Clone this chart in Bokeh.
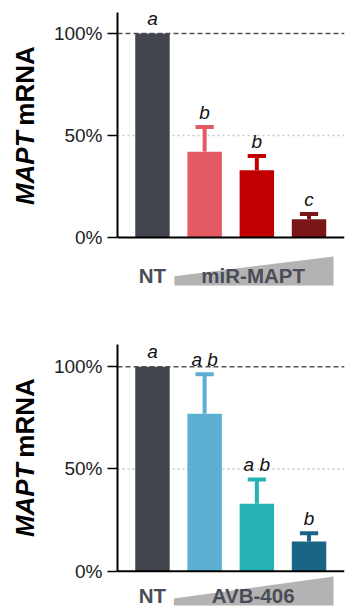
import math
from bokeh.plotting import figure
from bokeh.models import Range1d, Span, FixedTicker, NumeralTickFormatter, ColumnDataSource
from bokeh.layouts import column, row
from bokeh.embed import file_html
from bokeh.resources import INLINE
from bokeh.core.properties import value

# ---------------- data ----------------
groups = ["NT", "dose 1", "dose 2", "dose 3"]

mir_mean = [1.00, 0.42, 0.33, 0.09]
mir_err = [0.0, 0.122, 0.069, 0.025]
mir_letters = ["a", "b", "b", "c"]
mir_colors = ["#43454e", "#e35a62", "#c00000", "#7a1519"]

avb_mean = [1.00, 0.77, 0.33, 0.145]
avb_err = [0.0, 0.193, 0.118, 0.041]
avb_letters = ["a", "a b", "a b", "b"]
avb_colors = ["#43454e", "#5daed3", "#27b2b5", "#1a6585"]

y_ticks = [0, 0.5, 1.0]
ref_full = 1.0
ref_half = 0.5
control_label = "NT"
treatments = ["miR-MAPT", "AVB-406"]
ylabel_parts = ["MAPT", "mRNA"]

# ---------------- style ----------------
FONT = "Liberation Sans"
TXT_GREY = "#4a4d57"
WEDGE = "#b3b3b3"
LAB_W = 40
MAIN_W = 306


def make_panel(mean, err, letters, colors, treatment, height, top_border,
               y_start, y_end, axis_top, wedge, text_y, ylab_mid):
    x = list(range(len(mean)))
    yr = Range1d(y_start, y_end)
    p = figure(width=MAIN_W, height=height,
               x_range=Range1d(-0.67, 3.68), y_range=yr,
               x_axis_location=None, toolbar_location=None, output_backend="svg",
               min_border_left=117 - LAB_W, min_border_right=2,
               min_border_top=top_border, min_border_bottom=0,
               outline_line_color=None, title=None)
    p.grid.visible = False
    p.background_fill_color = "white"
    p.border_fill_color = "white"

    # reference lines
    p.add_layout(Span(location=ref_full, dimension="width", line_color="#555555",
                      line_width=1.5, line_dash="5 3", level="underlay"))
    p.add_layout(Span(location=ref_half, dimension="width", line_color="#c8c8c8",
                      line_width=1.5, line_dash="2 3", level="underlay"))

    src = ColumnDataSource(dict(x=x, top=mean, color=colors))
    p.vbar(x="x", top="top", bottom=0, width=0.66, fill_color="color",
           line_color=None, source=src)

    # error bars (upper only)
    ex = [xi for xi, e in zip(x, err) if e > 0]
    elo = [m for m, e in zip(mean, err) if e > 0]
    ehi = [m + e for m, e in zip(mean, err) if e > 0]
    ec = [c for c, e in zip(colors, err) if e > 0]
    esrc = ColumnDataSource(dict(x=ex, lo=elo, hi=ehi, c=ec,
                                 xl=[v - 0.175 for v in ex],
                                 xr=[v + 0.175 for v in ex]))
    p.segment(x0="x", y0="lo", x1="x", y1="hi", line_color="c", line_width=4,
              source=esrc)
    p.segment(x0="xl", y0="hi", x1="xr", y1="hi", line_color="c", line_width=4,
              source=esrc)

    # significance letters
    pad = 0.072
    ly = [m + e + pad for m, e in zip(mean, err)]
    p.text(x=x, y=ly, text=letters, text_align="center", text_baseline="alphabetic",
           text_font=value(FONT), text_font_style="italic", text_font_size="19px",
           text_color="#111111")

    # x axis line
    p.add_layout(Span(location=0, dimension="width", line_color="black",
                      line_width=2))

    # wedge for increasing dose
    wx0, wx1, wyb, wyl, wyr = wedge
    p.patch(x=[wx0, wx0, wx1, wx1], y=[wyb, wyl, wyr, wyb], fill_color=WEDGE,
            line_color=None)
    p.text(x=[x[0]], y=[text_y], text=[control_label], text_align="center",
           text_baseline="middle", text_font=value(FONT), text_font_style="bold",
           text_font_size="20.5px", text_color=TXT_GREY)
    p.text(x=[1.93], y=[text_y], text=[treatment], text_align="center",
           text_baseline="middle", text_font=value(FONT), text_font_style="bold",
           text_font_size="20.5px", text_color=TXT_GREY)

    # y axis
    ya = p.yaxis[0]
    ya.bounds = (0, axis_top)
    ya.ticker = FixedTicker(ticks=y_ticks, minor_ticks=[])
    ya.formatter = NumeralTickFormatter(format="0%")
    ya.axis_line_width = 2
    ya.axis_line_color = "black"
    ya.major_tick_out = 10
    ya.major_tick_in = 0
    ya.major_tick_line_width = 1.5
    ya.minor_tick_line_color = None
    ya.major_label_standoff = 5
    ya.major_label_text_font = FONT
    ya.major_label_text_font_size = "19px"
    ya.major_label_text_color = "#222222"

    # y axis title in a narrow side figure sharing the y range
    q = figure(width=LAB_W, height=height, x_range=Range1d(0, LAB_W), y_range=yr,
               x_axis_location=None, y_axis_location=None, toolbar_location=None,
               output_backend="svg", min_border_left=0, min_border_right=0,
               min_border_top=top_border, min_border_bottom=0,
               outline_line_color=None, title=None)
    q.grid.visible = False
    gap = 0.014
    q.text(x=[24], y=[ylab_mid - gap], text=[ylabel_parts[0]], angle=math.pi / 2,
           text_align="right", text_baseline="middle", text_font=value(FONT),
           text_font_style="bold italic", text_font_size="26px", text_color="black")
    q.text(x=[24], y=[ylab_mid + gap], text=[ylabel_parts[1]], angle=math.pi / 2,
           text_align="left", text_baseline="middle", text_font=value(FONT),
           text_font_style="bold", text_font_size="26px", text_color="black")
    return row(q, p, spacing=0)


p1 = make_panel(mir_mean, mir_err, mir_letters, mir_colors, treatments[0],
                308, 8, -0.348, 1.1225, 1.103,
                (0.42, 3.47, -0.235, -0.19, -0.093), -0.186, 0.534)
p2 = make_panel(avb_mean, avb_err, avb_letters, avb_colors, treatments[1],
                303, 0, -0.197, 1.2846, 1.109,
                (0.41, 3.47, -0.168, -0.134, -0.026), -0.119, 0.541)

layout = column(p1, p2, spacing=0)
open("out.html", "w").write(file_html(layout, INLINE))
